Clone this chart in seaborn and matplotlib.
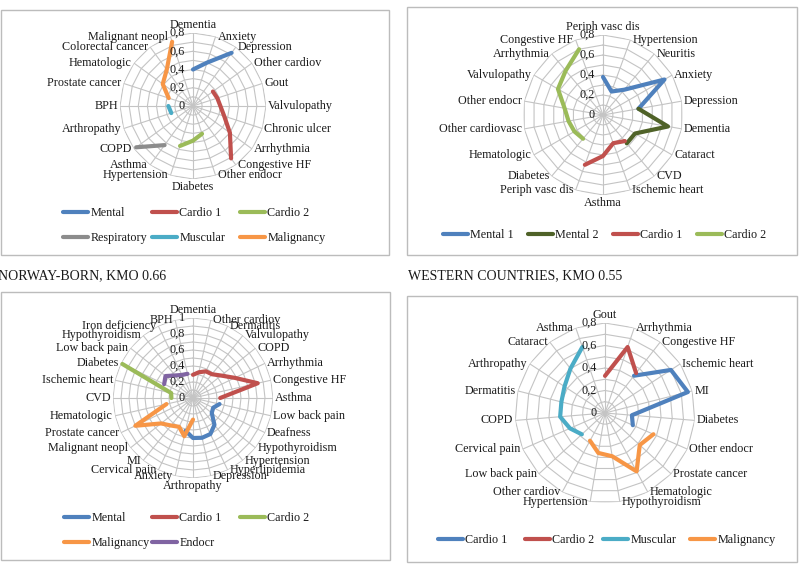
import numpy as np
import pandas as pd
import matplotlib
matplotlib.use("Agg")
import matplotlib.pyplot as plt
import seaborn as sns
from matplotlib.patches import Rectangle
from matplotlib.transforms import offset_copy

# ---------------- Daten (Ladungen) ----------------
# Panel 1 (oben links)
p1_categories = ["Dementia", "Anxiety", "Depression", "Other cardiov", "Gout", "Valvulopathy",
                 "Chronic ulcer", "Arrhythmia", "Congestive HF", "Other endocr", "Diabetes",
                 "Hypertension", "Asthma", "COPD", "Arthropathy", "BPH", "Prostate cancer",
                 "Hematologic", "Colorectal cancer", "Malignant neopl"]
p1_mental      = [0.40, 0.50, 0.72, None, None, None, None, None, None, None, None, None, None, None, None, None, None, None, None, None]
p1_cardio1     = [None, None, None, 0.27, 0.28, 0.30, 0.36, 0.50, 0.71, None, None, None, None, None, None, None, None, None, None, None]
p1_cardio2     = [None, None, None, None, None, None, None, None, None, 0.32, 0.38, 0.46, None, None, None, None, None, None, None, None]
p1_respiratory = [None, None, None, None, None, None, None, None, None, None, None, None, 0.53, 0.77, None, None, None, None, None, None]
p1_muscular    = [None, None, None, None, None, None, None, None, None, None, None, None, None, None, 0.25, 0.27, None, None, None, None]
p1_malignancy  = [None, None, None, None, None, None, None, None, None, None, None, None, None, None, None, None, 0.28, 0.41, 0.49, 0.74]

# Panel 2 (oben rechts)
p2_categories = ["Periph vasc dis", "Hypertension", "Neuritis", "Anxiety", "Depression", "Dementia",
                 "Cataract", "CVD", "Ischemic heart", "Asthma", "Periph vasc dis", "Diabetes",
                 "Hematologic", "Other cardiovasc", "Other endocr", "Valvulopathy", "Arrhythmia",
                 "Congestive HF"]
p2_mental1 = [0.38, 0.25, 0.33, 0.71, 0.36, None, None, None, None, None, None, None, None, None, None, None, None, None]
p2_mental2 = [None, None, None, None, 0.36, 0.66, 0.37, 0.37, None, None, None, None, None, None, None, None, None, None]
p2_cardio1 = [None, None, None, None, None, None, None, 0.34, 0.30, 0.41, 0.53, None, None, None, None, None, None, None]
p2_cardio2 = [None, None, None, None, None, None, None, None, None, None, None, 0.31, 0.33, 0.35, 0.39, 0.52, 0.58, 0.70]

# Panel 3 (unten links)
p3_categories = ["Dementia", "Other cardiov", "Dermatitis", "Valvulopathy", "COPD", "Arrhythmia",
                 "Congestive HF", "Asthma", "Low back pain", "Deafness", "Hypothyroidism",
                 "Hypertension", "Hyperlipidemia", "Depression", "Arthropathy", "Anxiety",
                 "Cervical pain", "MI", "Malignant neopl", "Prostate cancer", "Hematologic", "CVD",
                 "Ischemic heart", "Diabetes", "Low back pain", "Hypothyroidism", "Iron deficiency", "BPH"]
p3_mental     = [None, None, None, None, None, None, None, None, 0.34, 0.28, 0.30, 0.43, 0.50, 0.51, 0.50, 0.42, None, None, None, None, None, None, None, None, None, None, None, None]
p3_cardio1    = [0.29, 0.33, 0.37, 0.38, 0.45, 0.58, 0.83, 0.34, None, None, None, None, None, None, None, None, None, None, None, None, None, None, None, None, None, None, None, None]
p3_cardio2    = [None, None, None, None, None, None, None, None, None, None, None, None, None, None, None, None, None, None, None, None, None, 0.27, 0.28, 0.98, None, None, None, None]
p3_malignancy = [None, None, None, None, None, None, None, None, None, None, None, None, None, None, 0.27, 0.49, 0.40, 0.44, 0.51, 0.80, 0.34, None, None, None, None, None, None, None]
p3_endocr     = [None, None, None, None, None, None, None, None, None, None, None, None, None, None, None, None, None, None, None, None, None, None, None, 0.40, 0.44, 0.36, 0.32, 0.31]

# Panel 4 (unten rechts)
p4_categories = ["Gout", "Arrhythmia", "Congestive HF", "Ischemic heart", "MI", "Diabetes",
                 "Other endocr", "Prostate cancer", "Hematologic", "Hypothyroidism", "Hypertension",
                 "Other cardiov", "Low back pain", "Cervical pain", "COPD", "Dermatitis",
                 "Arthropathy", "Cataract", "Asthma"]
p4_cardio1    = [None, None, 0.42, 0.70, 0.76, 0.24, 0.27, None, None, None, None, None, None, None, None, None, None, None, None]
p4_cardio2    = [0.33, 0.62, 0.45, None, None, None, None, None, None, None, None, None, None, None, None, None, None, None, None]
p4_muscular   = [None, None, None, None, None, None, None, None, None, None, None, None, 0.28, 0.34, 0.40, 0.40, 0.43, 0.50, 0.62]
p4_malignancy = [None, None, None, None, None, None, 0.47, 0.42, 0.59, 0.39, 0.36, 0.28, None, None, None, None, None, None, None]

# ---------------- Stil ----------------
sns.set_theme(style="white")
plt.rcParams["font.family"] = ["Liberation Serif", "DejaVu Serif"]
TXT = "#1a1a1a"
GRID = "#c4c4c4"
BLUE, RED, GREEN, GRAY = "#4f81bd", "#c0504d", "#9bbb59", "#8c8c8c"
AQUA, ORANGE, PURPLE, DKGREEN = "#4bacc6", "#f79646", "#8064a2", "#4f6228"
FS = 8.7

W, H = 806, 572
fig = plt.figure(figsize=(W / 100, H / 100), dpi=100)
fig.patch.set_facecolor("white")


def box(x0, y0, x1, y1):
    fig.add_artist(Rectangle((x0 / W, 1 - y1 / H), (x1 - x0) / W, (y1 - y0) / H,
                             transform=fig.transFigure, fill=False, ec="#bcbcbc", lw=1))


def radar(cx, cy, R, rmax, categories, series, tick_vals, tick_labels):
    ax = fig.add_axes([(cx - R) / W, 1 - (cy + R) / H, 2 * R / W, 2 * R / H], projection="polar")
    ax.set_theta_zero_location("N")
    ax.set_theta_direction(-1)
    ax.set_axis_off()
    n = len(categories)
    ang = np.arange(n) * 2 * np.pi / n
    ring = np.append(ang, ang[0])
    # Polygon-Gitter wie in Excel
    for r in np.arange(0.1, rmax + 1e-9, 0.1):
        ax.plot(ring, np.full(n + 1, r), color=GRID, lw=0.8, zorder=1)
    for a in ang:
        ax.plot([a, a], [0, rmax], color=GRID, lw=0.8, zorder=1)
    lines = []
    for name, vals, color in series:
        idx = [i for i, v in enumerate(vals) if v is not None]
        df = pd.DataFrame({"theta": ang[idx], "r": [vals[i] for i in idx]})
        sns.lineplot(data=df, x="theta", y="r", ax=ax, sort=False, estimator=None,
                     color=color, lw=3, legend=False, zorder=3)
        ln = ax.lines[-1]
        ln.set_solid_capstyle("round")
        ln.set_solid_joinstyle("round")
        ln.set_clip_on(False)
        ln.set_label(name)
        lines.append(ln)
    ax.set_xlim(0, 2 * np.pi)
    ax.set_ylim(0, rmax)
    # Achsenbeschriftung
    tr = offset_copy(ax.transData, fig=fig, x=-8, y=0, units="dots")
    for v, lab in zip(tick_vals, tick_labels):
        ax.text(0, v, lab, transform=tr, ha="right", va="center", fontsize=FS, color=TXT, zorder=4)
    for a, lab in zip(ang, categories):
        s, c = np.sin(a), np.cos(a)
        if abs(s) < 0.02:
            ha, va, dx, dy = "center", ("bottom" if c > 0 else "top"), 0, (2 if c > 0 else -2)
        else:
            ha, va, dx, dy = ("left" if s > 0 else "right"), "center", (2 if s > 0 else -2), 0
        t = offset_copy(ax.transData, fig=fig, x=dx, y=dy, units="dots")
        ax.text(a, rmax, lab, transform=t, ha=ha, va=va, fontsize=FS, color=TXT)
    return lines


def legend_row(lines, xs, ys):
    for ln, x, y in zip(lines, xs, ys):
        fig.legend([ln], [ln.get_label()], loc="center left", bbox_to_anchor=(x / W, 1 - y / H),
                   frameon=False, borderpad=0, borderaxespad=0, handlelength=2.1,
                   handletextpad=0.15, fontsize=FS, labelcolor=TXT)


ticks8 = [0, 0.2, 0.4, 0.6, 0.8]
ticks8_lab = ["0", "0,2", "0,4", "0,6", "0,8"]

# Panel 1
box(1, 10, 389, 255)
l1 = radar(193, 106, 73, 0.8, p1_categories,
           [("Mental", p1_mental, BLUE), ("Cardio 1", p1_cardio1, RED), ("Cardio 2", p1_cardio2, GREEN),
            ("Respiratory", p1_respiratory, GRAY), ("Muscular", p1_muscular, AQUA),
            ("Malignancy", p1_malignancy, ORANGE)], ticks8, ticks8_lab)
legend_row(l1, [63, 152, 240, 63, 152, 240], [213, 213, 213, 238, 238, 238])

# Panel 2
box(407, 7, 797, 255)
l2 = radar(603, 115, 80, 0.8, p2_categories,
           [("Mental 1", p2_mental1, BLUE), ("Mental 2", p2_mental2, DKGREEN),
            ("Cardio 1", p2_cardio1, RED), ("Cardio 2", p2_cardio2, GREEN)], ticks8, ticks8_lab)
legend_row(l2, [443, 528, 613, 697], [235, 235, 235, 235])

# Panel 3
fig.text(-2 / W, 1 - 276 / H, "NORWAY-BORN, KMO 0.66", ha="left", va="center", fontsize=10, color=TXT)
box(1, 292, 390, 560)
l3 = radar(193, 398, 80, 1.0, p3_categories,
           [("Mental", p3_mental, BLUE), ("Cardio 1", p3_cardio1, RED), ("Cardio 2", p3_cardio2, GREEN),
            ("Malignancy", p3_malignancy, ORANGE), ("Endocr", p3_endocr, PURPLE)],
           [0, 0.2, 0.4, 0.6, 0.8, 1.0], ["0", "0,2", "0,4", "0,6", "0,8", "1"])
legend_row(l3, [64, 152, 240, 64, 152], [518, 518, 518, 543, 543])

# Panel 4
fig.text(408 / W, 1 - 276 / H, "WESTERN COUNTRIES, KMO 0.55", ha="left", va="center", fontsize=10, color=TXT)
box(407, 296, 797, 562)
l4 = radar(605, 413, 90, 0.8, p4_categories,
           [("Cardio 1", p4_cardio1, BLUE), ("Cardio 2", p4_cardio2, RED),
            ("Muscular", p4_muscular, AQUA), ("Malignancy", p4_malignancy, ORANGE)], ticks8, ticks8_lab)
legend_row(l4, [438, 525, 603, 690], [540, 540, 540, 540])

fig.savefig("out.png", dpi=100, facecolor="white")
